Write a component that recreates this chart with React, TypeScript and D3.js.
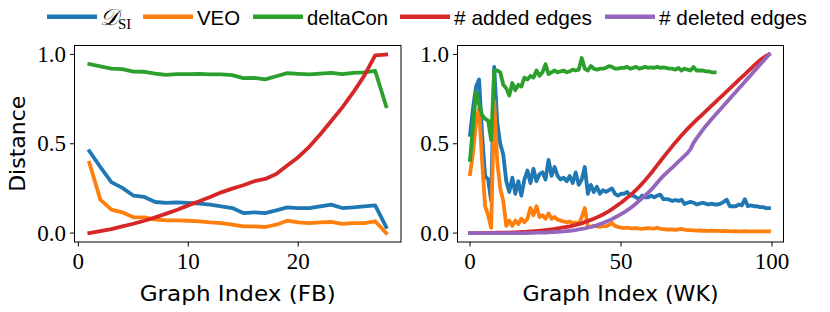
import React, { useRef, useEffect } from 'react';
import * as d3 from 'd3';

// FB panel (graph index 1..28)
const fbDsi = [0.459, 0.37, 0.285, 0.253, 0.21, 0.202, 0.174, 0.169, 0.172, 0.169, 0.165, 0.159, 0.15, 0.14,
  0.112, 0.116, 0.112, 0.127, 0.144, 0.14, 0.14, 0.15, 0.159, 0.14, 0.144, 0.15, 0.155, 0.034];
const fbVeo = [0.393, 0.187, 0.131, 0.116, 0.088, 0.088, 0.075, 0.071, 0.071, 0.069, 0.066, 0.06, 0.056, 0.047,
  0.037, 0.037, 0.034, 0.047, 0.069, 0.06, 0.056, 0.06, 0.062, 0.052, 0.056, 0.056, 0.066, 0.0];
const fbDelta = [0.946, 0.933, 0.921, 0.918, 0.904, 0.903, 0.893, 0.886, 0.89, 0.89, 0.891, 0.888, 0.888, 0.884,
  0.867, 0.869, 0.86, 0.878, 0.895, 0.891, 0.888, 0.893, 0.897, 0.89, 0.897, 0.899, 0.908, 0.71];
const fbAdded = [0.0, 0.011, 0.022, 0.037, 0.052, 0.069, 0.088, 0.109, 0.131, 0.155, 0.178, 0.202, 0.228, 0.249,
  0.268, 0.29, 0.303, 0.331, 0.378, 0.425, 0.483, 0.552, 0.627, 0.702, 0.787, 0.88, 0.995, 1.0];

// WK panel (graph index 0..99)
const wkDsi = [0.55, 0.7, 0.82, 0.86, 0.55, 0.32, 0.3, 0.18, 0.93, 0.62,
  0.5, 0.44, 0.29, 0.23, 0.31, 0.22, 0.29, 0.21, 0.3, 0.35,
  0.28, 0.36, 0.29, 0.33, 0.34, 0.3, 0.41, 0.32, 0.37, 0.32,
  0.3, 0.31, 0.29, 0.32, 0.28, 0.34, 0.27, 0.3, 0.37, 0.22,
  0.27, 0.23, 0.26, 0.22, 0.24, 0.23, 0.24, 0.25, 0.22, 0.21,
  0.22, 0.22, 0.23, 0.21, 0.21, 0.2, 0.19, 0.21, 0.2, 0.2,
  0.21, 0.2, 0.21, 0.215, 0.19, 0.19, 0.187, 0.18, 0.185, 0.18,
  0.187, 0.163, 0.17, 0.175, 0.17, 0.16, 0.165, 0.17, 0.165, 0.16,
  0.165, 0.16, 0.16, 0.165, 0.175, 0.187, 0.15, 0.15, 0.15, 0.16,
  0.155, 0.19, 0.15, 0.155, 0.15, 0.15, 0.145, 0.145, 0.14, 0.14];
const wkVeo = [0.33, 0.45, 0.62, 0.7, 0.4, 0.15, 0.1, 0.03, 0.74, 0.4,
  0.25, 0.18, 0.04, 0.07, 0.04, 0.07, 0.05, 0.08, 0.06, 0.08,
  0.14, 0.1, 0.15, 0.09, 0.1, 0.08, 0.11, 0.08, 0.09, 0.075,
  0.07, 0.065, 0.06, 0.065, 0.056, 0.06, 0.05, 0.09, 0.14, 0.037,
  0.035, 0.04, 0.037, 0.035, 0.04, 0.037, 0.045, 0.056, 0.04, 0.035,
  0.03, 0.028, 0.03, 0.027, 0.026, 0.028, 0.025, 0.024, 0.026, 0.028,
  0.026, 0.025, 0.03, 0.024, 0.022, 0.02, 0.021, 0.02, 0.018, 0.02,
  0.024, 0.019, 0.017, 0.016, 0.015, 0.014, 0.015, 0.013, 0.013, 0.012,
  0.013, 0.012, 0.012, 0.011, 0.012, 0.011, 0.011, 0.01, 0.011, 0.01,
  0.01, 0.011, 0.01, 0.01, 0.009, 0.01, 0.01, 0.009, 0.009, 0.009];
const wkDelta = [0.41, 0.6, 0.79, 0.72, 0.66, 0.64, 0.63, 0.52, 0.91, 0.91,
  0.9, 0.83, 0.81, 0.77, 0.84, 0.8, 0.83, 0.82, 0.87, 0.86,
  0.88, 0.87, 0.91, 0.88, 0.9, 0.945, 0.89, 0.9, 0.91, 0.9,
  0.905, 0.91, 0.9, 0.905, 0.915, 0.91, 0.915, 0.98, 0.92, 0.91,
  0.935, 0.92, 0.915, 0.92, 0.92, 0.925, 0.935, 0.93, 0.92, 0.92,
  0.925, 0.925, 0.93, 0.92, 0.925, 0.93, 0.92, 0.925, 0.93, 0.925,
  0.927, 0.925, 0.93, 0.925, 0.927, 0.925, 0.92, 0.92, 0.915, 0.925,
  0.91, 0.92, 0.915, 0.91, 0.93, 0.91, 0.91, 0.91, 0.905, 0.905,
  0.9, 0.9];
const wkAdded = [0, 0, 0, 0, 0, 0.001, 0.001, 0.001, 0.001, 0.002,
  0.002, 0.002, 0.003, 0.003, 0.004, 0.004, 0.005, 0.006, 0.007, 0.008,
  0.009, 0.01, 0.012, 0.013, 0.015, 0.017, 0.019, 0.021, 0.023, 0.026,
  0.029, 0.032, 0.035, 0.038, 0.042, 0.046, 0.05, 0.054, 0.062, 0.068,
  0.074, 0.08, 0.088, 0.096, 0.104, 0.113, 0.123, 0.134, 0.146, 0.158,
  0.17, 0.183, 0.197, 0.211, 0.226, 0.242, 0.259, 0.277, 0.296, 0.316,
  0.336, 0.358, 0.38, 0.402, 0.424, 0.445, 0.466, 0.487, 0.507, 0.527,
  0.546, 0.565, 0.583, 0.6, 0.617, 0.633, 0.649, 0.665, 0.681, 0.697,
  0.713, 0.729, 0.745, 0.761, 0.777, 0.793, 0.809, 0.825, 0.841, 0.857,
  0.873, 0.889, 0.905, 0.921, 0.937, 0.952, 0.967, 0.98, 0.991, 1.0];
const wkDeleted = [0, 0, 0, 0, 0, 0, 0, 0, 0, 0,
  0, 0, 0, 0, 0, 0, 0, 0, 0, 0,
  0.001, 0.001, 0.002, 0.002, 0.003, 0.003, 0.004, 0.005, 0.006, 0.007,
  0.008, 0.009, 0.011, 0.013, 0.015, 0.017, 0.02, 0.023, 0.026, 0.03,
  0.034, 0.039, 0.044, 0.05, 0.056, 0.063, 0.07, 0.078, 0.087, 0.096,
  0.106, 0.116, 0.127, 0.139, 0.152, 0.166, 0.181, 0.196, 0.211, 0.226,
  0.243, 0.262, 0.282, 0.302, 0.32, 0.336, 0.352, 0.367, 0.383, 0.4,
  0.416, 0.432, 0.448, 0.47, 0.505, 0.53, 0.553, 0.576, 0.598, 0.618,
  0.638, 0.657, 0.676, 0.695, 0.714, 0.733, 0.752, 0.771, 0.79, 0.809,
  0.828, 0.847, 0.866, 0.885, 0.904, 0.923, 0.942, 0.961, 0.98, 1.0];

const fbTicks = [0, 10, 20];
const wkTicks = [0, 50, 100];
const yTicks = [0, 0.5, 1.0];

const colors = {
  dsi: '#1f77b4',
  veo: '#ff7f0e',
  delta: '#2ca02c',
  added: '#d62728',
  deleted: '#9467bd',
};

const legendItems = [
  { key: 'dsi', label: 'DSI', x: 47, textLen: 32 },
  { key: 'veo', label: 'VEO', x: 143, textLen: 43 },
  { key: 'delta', label: 'deltaCon', x: 253, textLen: 81 },
  { key: 'added', label: '# added edges', x: 400, textLen: 138 },
  { key: 'deleted', label: '# deleted edges', x: 605, textLen: 148 },
];

const W = 830;
const H = 312;
const top = 45.5;
const bottom = 242;

const sans = '"DejaVu Sans", sans-serif';
const legendFont = '"Liberation Sans", Arial, sans-serif';
const serif = '"Liberation Serif", "DejaVu Serif", serif';

type Panel = {
  left: number;
  right: number;
  domain: [number, number];
  ticks: number[];
  xlabel: string;
  series: { key: keyof typeof colors; values: number[]; start: number }[];
  ylabel: boolean;
};

const panels: Panel[] = [
  {
    left: 74.5, right: 401, domain: [-0.35, 29.35], ticks: fbTicks, xlabel: 'Graph Index (FB)', ylabel: true,
    series: [
      { key: 'dsi', values: fbDsi, start: 1 },
      { key: 'veo', values: fbVeo, start: 1 },
      { key: 'delta', values: fbDelta, start: 1 },
      { key: 'added', values: fbAdded, start: 1 },
    ],
  },
  {
    left: 457.5, right: 783.5, domain: [-4.15, 103.8], ticks: wkTicks, xlabel: 'Graph Index (WK)', ylabel: false,
    series: [
      { key: 'dsi', values: wkDsi, start: 0 },
      { key: 'veo', values: wkVeo, start: 0 },
      { key: 'delta', values: wkDelta, start: 0 },
      { key: 'added', values: wkAdded, start: 0 },
      { key: 'deleted', values: wkDeleted, start: 0 },
    ],
  },
];

const App: React.FC = () => {
  const ref = useRef<SVGSVGElement | null>(null);

  useEffect(() => {
    if (!ref.current) return;
    const svg = d3.select(ref.current);
    svg.selectAll('*').remove();

    svg.append('rect').attr('width', W).attr('height', H).attr('fill', '#fff');

    const y = d3.scaleLinear().domain([-0.05, 1.05]).range([bottom, top]);

    panels.forEach((p) => {
      const x = d3.scaleLinear().domain(p.domain).range([p.left, p.right]);
      const g = svg.append('g');

      p.series.forEach((s) => {
        const ln = d3.line<number>()
          .x((_, i) => x(i + s.start))
          .y((d) => y(d));
        g.append('path')
          .datum(s.values)
          .attr('fill', 'none')
          .attr('stroke', colors[s.key])
          .attr('stroke-width', 3.8)
          .attr('stroke-linejoin', 'round')
          .attr('stroke-linecap', 'square')
          .attr('d', ln);
      });

      // frame
      g.append('rect')
        .attr('x', p.left).attr('y', top)
        .attr('width', p.right - p.left).attr('height', bottom - top)
        .attr('fill', 'none').attr('stroke', '#000').attr('stroke-width', 1);

      // x ticks
      p.ticks.forEach((t) => {
        g.append('line')
          .attr('x1', x(t)).attr('x2', x(t))
          .attr('y1', bottom).attr('y2', bottom + 4.5)
          .attr('stroke', '#000').attr('stroke-width', 1);
        g.append('text')
          .attr('x', x(t)).attr('y', 268.5)
          .attr('text-anchor', 'middle')
          .style('font-family', serif).style('font-size', '23px')
          .text(String(t));
      });

      // y ticks
      yTicks.forEach((t) => {
        g.append('line')
          .attr('x1', p.left - 4.5).attr('x2', p.left)
          .attr('y1', y(t)).attr('y2', y(t))
          .attr('stroke', '#000').attr('stroke-width', 1);
        g.append('text')
          .attr('x', p.left - 8.5).attr('y', y(t) + 7.5)
          .attr('text-anchor', 'end')
          .style('font-family', serif).style('font-size', '23px')
          .text(t.toFixed(1));
      });

      g.append('text')
        .attr('x', (p.left + p.right) / 2).attr('y', 300.5)
        .attr('text-anchor', 'middle')
        .attr('textLength', 196).attr('lengthAdjust', 'spacingAndGlyphs')
        .style('font-family', sans).style('font-size', '22px')
        .text(p.xlabel);

      if (p.ylabel) {
        g.append('text')
          .attr('transform', `translate(25,${(top + bottom) / 2}) rotate(-90)`)
          .attr('text-anchor', 'middle')
          .style('font-family', sans).style('font-size', '22px')
          .text('Distance');
      }
    });

    // legend
    const lg = svg.append('g');
    legendItems.forEach((it) => {
      lg.append('line')
        .attr('x1', it.x).attr('x2', it.x + 50)
        .attr('y1', 16.7).attr('y2', 16.7)
        .attr('stroke', colors[it.key as keyof typeof colors])
        .attr('stroke-width', 4.5);
      if (it.key === 'dsi') {
        const t = lg.append('text').attr('x', it.x + 53).attr('y', 25);
        t.append('tspan')
          .style('font-family', serif).style('font-style', 'italic').style('font-size', '23px')
          .text('\u{1D49F}');
        t.append('tspan')
          .attr('dy', 4)
          .style('font-family', serif).style('font-size', '15px')
          .text('SI');
      } else {
        lg.append('text')
          .attr('x', it.x + 54).attr('y', 25)
          .attr('textLength', it.textLen).attr('lengthAdjust', 'spacingAndGlyphs')
          .style('font-family', legendFont).style('font-size', '21px')
          .text(it.label);
      }
    });
  }, []);

  return (
    <svg
      ref={ref}
      width={W}
      height={H}
      style={{ position: 'absolute', left: 0, top: 0 }}
    />
  );
};

export default App;
